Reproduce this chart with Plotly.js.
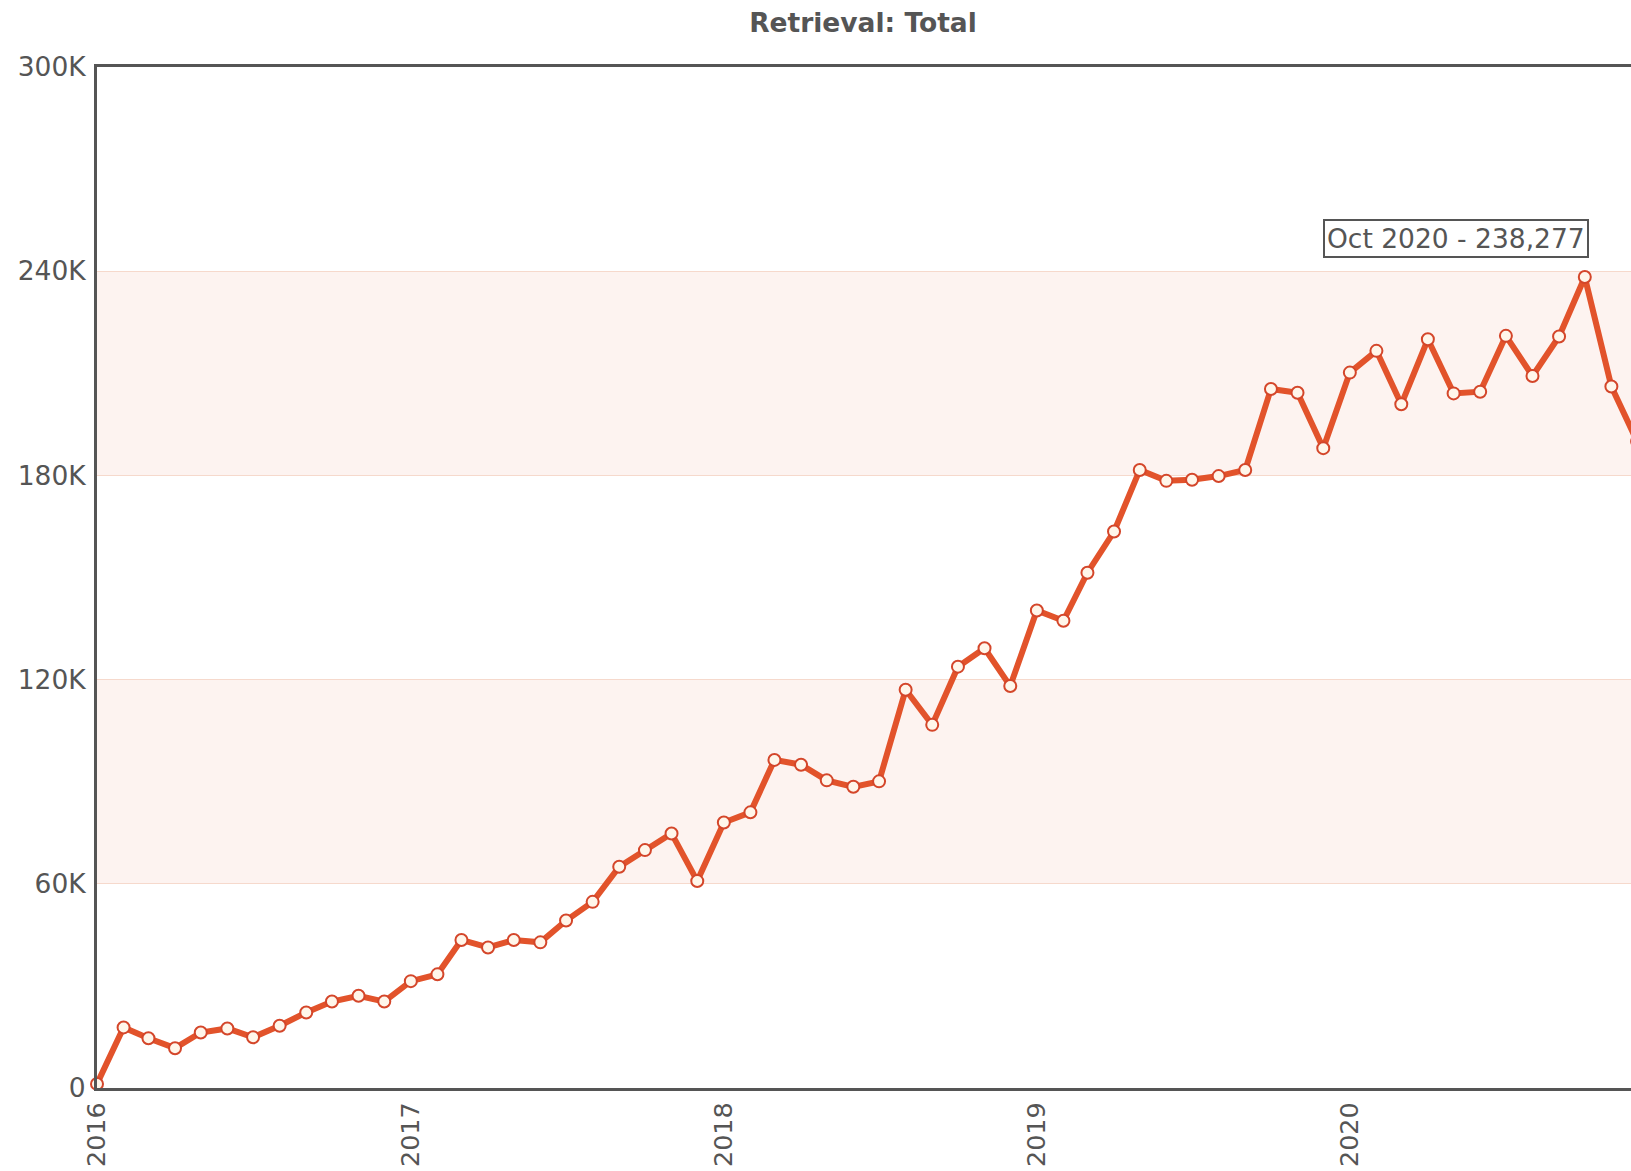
<!DOCTYPE html>
<html>
<head>
<meta charset="utf-8">
<script src="https://cdn.plot.ly/plotly-3.0.1.min.js"></script>
<style>
html, body { margin: 0; padding: 0; background: #ffffff; overflow: hidden; }
#chart { width: 1726px; height: 1171px; }
</style>
</head>
<body>
<div id="chart"></div>
<script>
// ---- data ----
const months = [
  '2016-01-01','2016-02-01','2016-03-01','2016-04-01','2016-05-01','2016-06-01','2016-07-01','2016-08-01','2016-09-01','2016-10-01','2016-11-01','2016-12-01',
  '2017-01-01','2017-02-01','2017-03-01','2017-04-01','2017-05-01','2017-06-01','2017-07-01','2017-08-01','2017-09-01','2017-10-01','2017-11-01','2017-12-01',
  '2018-01-01','2018-02-01','2018-03-01','2018-04-01','2018-05-01','2018-06-01','2018-07-01','2018-08-01','2018-09-01','2018-10-01','2018-11-01','2018-12-01',
  '2019-01-01','2019-02-01','2019-03-01','2019-04-01','2019-05-01','2019-06-01','2019-07-01','2019-08-01','2019-09-01','2019-10-01','2019-11-01','2019-12-01',
  '2020-01-01','2020-02-01','2020-03-01','2020-04-01','2020-05-01','2020-06-01','2020-07-01','2020-08-01','2020-09-01','2020-10-01','2020-11-01','2020-12-01'
];
const retrievals = [
  1200, 17800, 14600, 11700, 16300, 17500, 14900, 18300, 22200, 25400, 27100, 25400,
  31400, 33400, 43500, 41300, 43500, 42800, 49200, 54700, 65000, 69900, 74800, 60800,
  78000, 81000, 96400, 95000, 90400, 88500, 90100, 117000, 106700, 123800, 129200, 118100,
  140300, 137300, 151400, 163500, 181600, 178400, 178700, 179800, 181600, 205400, 204300, 188000,
  210200, 216600, 200900, 220000, 204100, 204600, 221000, 209200, 220800, 238277, 206100, 190000
];
const yTickVals = [0, 60000, 120000, 180000, 240000, 300000];
const yTickText = ['0', '60K', '120K', '180K', '240K', '300K'];
const yearTicks = ['2016-01-01', '2017-01-01', '2018-01-01', '2019-01-01', '2020-01-01'];
const yearLabels = ['2016', '2017', '2018', '2019', '2020'];
const monthNames = ['Jan','Feb','Mar','Apr','May','Jun','Jul','Aug','Sep','Oct','Nov','Dec'];
const chartTitle = 'Retrieval: Total';

// ---- derived ----
let maxIdx = 0;
retrievals.forEach((v, i) => { if (v > retrievals[maxIdx]) maxIdx = i; });
const maxDate = months[maxIdx];
const maxLabel = monthNames[parseInt(maxDate.slice(5, 7), 10) - 1] + ' ' + maxDate.slice(0, 4) +
  ' - ' + retrievals[maxIdx].toLocaleString('en-US');

const FONT = '"DejaVu Sans", Verdana, sans-serif';
const TXT = '#555555';

// alternating bands between every other pair of ticks
const shapes = [];
for (let i = 1; i + 1 < yTickVals.length; i += 2) {
  shapes.push({
    type: 'rect', xref: 'paper', yref: 'y', x0: 0, x1: 1,
    y0: yTickVals[i], y1: yTickVals[i + 1],
    fillcolor: '#fdf3f0', line: { width: 0 }, layer: 'below'
  });
}

const trace = {
  type: 'scatter',
  mode: 'lines+markers',
  x: months,
  y: retrievals,
  cliponaxis: false,
  line: { color: '#e2532b', width: 6 },
  marker: { size: 12, color: '#fff6ea', line: { color: '#d4462a', width: 2 } },
  hoverinfo: 'x+y'
};

const layout = {
  width: 1726,
  height: 1171,
  paper_bgcolor: '#ffffff',
  plot_bgcolor: '#ffffff',
  margin: { l: 97, r: 10, t: 67, b: 83 },
  showlegend: false,
  font: { family: FONT, color: TXT, size: 26 },
  title: {
    text: '<b>' + chartTitle + '</b>',
    font: { family: FONT, size: 26.5, color: TXT },
    x: 0.5, xref: 'container', xanchor: 'center',
    y: 1 - 23 / 1171, yref: 'container', yanchor: 'middle'
  },
  xaxis: {
    type: 'date',
    range: ['2016-01-01', '2021-03-03'],
    tickvals: yearTicks,
    ticktext: yearLabels,
    tickangle: -90,
    tickfont: { family: FONT, size: 25.5, color: TXT },
    showgrid: false,
    zeroline: false,
    showline: true,
    linecolor: '#555555',
    linewidth: 3,
    mirror: true,
    ticks: '',
    ticklabelstandoff: 1
  },
  yaxis: {
    range: [0, 300000],
    tickvals: yTickVals,
    ticktext: yTickText,
    tickfont: { family: FONT, size: 26.5, color: TXT },
    showgrid: true,
    gridcolor: '#f6d9cc',
    gridwidth: 1,
    zeroline: false,
    showline: true,
    linecolor: '#555555',
    linewidth: 3,
    mirror: true,
    ticks: '',
    ticklabelstandoff: 3
  },
  shapes: shapes,
  annotations: [{
    x: maxDate, y: retrievals[maxIdx], xref: 'x', yref: 'y',
    text: maxLabel,
    showarrow: false,
    xshift: -129, yshift: 39,
    font: { family: FONT, size: 26.5, color: TXT },
    bgcolor: '#ffffff',
    bordercolor: '#555555',
    borderwidth: 2,
    borderpad: 2
  }]
};

Plotly.newPlot('chart', [trace], layout, { displayModeBar: false, staticPlot: true });
</script>
</body>
</html>
